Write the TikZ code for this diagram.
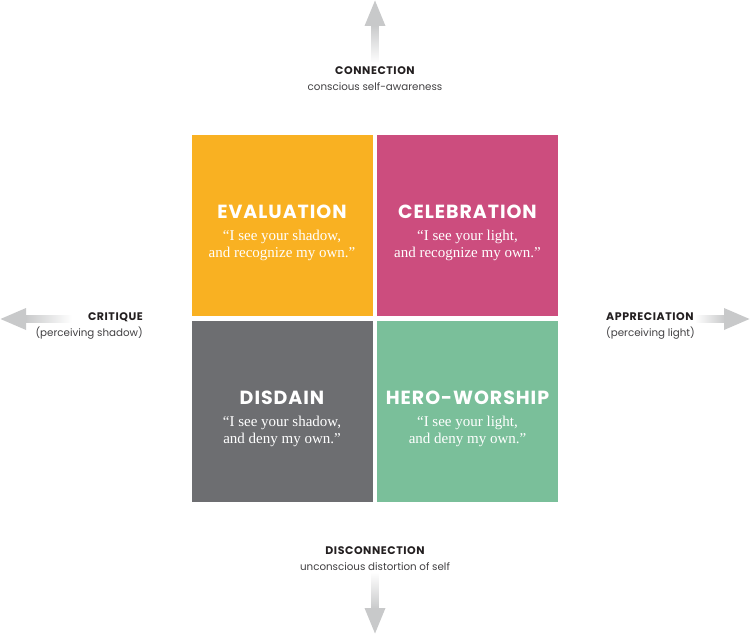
\documentclass[tikz,border=0pt]{standalone}
\usepackage{fontspec}
\usepackage{tikz}
\usetikzlibrary{positioning}
\newfontfamily\headfont{Poppins}[LetterSpace=5]
\newfontfamily\axisfont{Poppins}
\newfontfamily\quotefont{Liberation Serif}
\definecolor{evalyellow}{HTML}{F9B122}
\definecolor{celebpink}{HTML}{CC4D7E}
\definecolor{disdaingrey}{HTML}{6D6E71}
\definecolor{herogreen}{HTML}{7ABF9A}
\definecolor{axisdark}{HTML}{231F20}
\definecolor{axisgrey}{HTML}{414042}
\definecolor{arrowgrey}{HTML}{C8C9CA}
\tikzset{
  quad/.style={minimum width=181pt,minimum height=181pt,inner sep=0pt,draw=none},
  quadtitle/.style={font=\headfont\bfseries\fontsize{19}{22}\selectfont,text=white,inner sep=0pt},
  quote/.style={font=\quotefont\fontsize{15}{16.5}\selectfont,text=white,align=center,inner sep=0pt},
  axistitle/.style={font=\headfont\bfseries\fontsize{11}{13}\selectfont,text=axisdark,inner sep=0pt},
  axissub/.style={font=\axisfont\fontsize{10.3}{12}\selectfont,text=axisgrey,inner sep=0pt},
  arrowhead/.style={fill=arrowgrey,draw=none}
}
\begin{document}
\begin{tikzpicture}[x=1pt,y=-1pt]
\useasboundingbox (0,0) rectangle (750,634);
% quadrants
\node[quad,fill=evalyellow] (eval) at (282,225) {};
\node[quad,fill=celebpink] (celeb) at (467.5,225) {};
\node[quad,fill=disdaingrey] (disdain) at (282,411) {};
\node[quad,fill=herogreen] (hero) at (467.5,411) {};

\node[quadtitle] (evaltitle) at (282,212) {EVALUATION};
\node[quote] (evalquote) at (282,245.5) {“I see your shadow,\\and recognize my own.”};
\node[quadtitle] (celebtitle) at (467.5,212) {CELEBRATION};
\node[quote] (celebquote) at (467.5,245.5) {“I see your light,\\and recognize my own.”};
\node[quadtitle] (disdaintitle) at (282,398) {DISDAIN};
\node[quote] (disdainquote) at (282,431.5) {“I see your shadow,\\and deny my own.”};
\node[quadtitle] (herotitle) at (467.5,398) {HERO-WORSHIP};
\node[quote] (heroquote) at (467.5,431.5) {“I see your light,\\and deny my own.”};

% axis labels
\node[axistitle] (conn) at (375,71) {CONNECTION};
\node[axissub] (connsub) at (375,86.5) {conscious self-awareness};
\node[axistitle] (disconn) at (375,551) {DISCONNECTION};
\node[axissub] (disconnsub) at (375,567) {unconscious distortion of self};
\node[axistitle,anchor=east] (crit) at (143,317) {CRITIQUE};
\node[axissub,anchor=east] (critsub) at (143,333) {(perceiving shadow)};
\node[axistitle,anchor=west] (appr) at (606,317) {APPRECIATION};
\node[axissub,anchor=west] (apprsub) at (606,333) {(perceiving light)};

% fading arrows
\shade[top color=arrowgrey,bottom color=white] (371.5,25) rectangle (378.5,63);
\fill[arrowhead] (364.5,26) -- (375,0.5) -- (385.5,26) -- cycle;
\shade[top color=white,bottom color=arrowgrey] (371.5,572) rectangle (378.5,609);
\fill[arrowhead] (364.5,608) -- (375,633.5) -- (385.5,608) -- cycle;
\shade[left color=arrowgrey,right color=white] (25,315.5) rectangle (72,322.5);
\fill[arrowhead] (26,308) -- (0.5,319) -- (26,330) -- cycle;
\shade[left color=white,right color=arrowgrey] (695,315.5) rectangle (725,322.5);
\fill[arrowhead] (724,308) -- (749.5,319) -- (724,330) -- cycle;
\end{tikzpicture}
\end{document}
